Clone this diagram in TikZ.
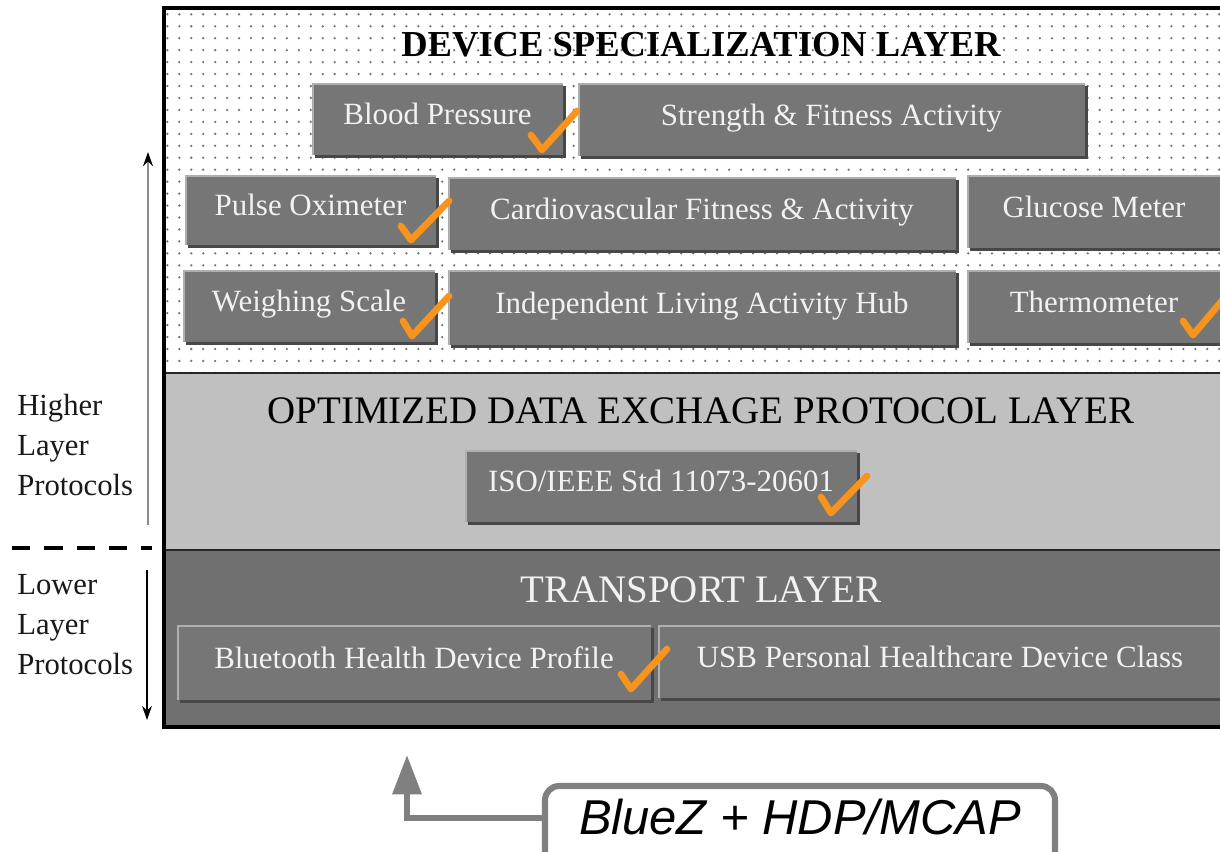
\documentclass[tikz,border=0pt]{standalone}
\usepackage{fontspec}
\setmainfont{Liberation Serif}
\newfontfamily\arialf{Liberation Sans}
\usetikzlibrary{arrows.meta,patterns.meta,shadows,calc}
\definecolor{boxgray}{RGB}{118,118,118}
\definecolor{lightlayer}{RGB}{192,192,192}
\definecolor{darklayer}{RGB}{112,112,112}
\definecolor{txtw}{RGB}{242,242,242}
\definecolor{hil}{RGB}{175,175,175}
\definecolor{chkor}{RGB}{247,148,29}
\definecolor{bzgray}{RGB}{128,128,128}
\newcommand{\devbox}[7]{%
  \node[#1, minimum width={(#5-#3)*0.025cm}, minimum height={(#6-#4)*0.025cm}] (#2) at ({(#3+#5)/2},{(#4+#6)/2}) {#7};}
\newcommand{\chkmark}[6]{\draw[chkstyle] (#1,#2) -- (#3,#4) -- (#5,#6);}
\begin{document}
\begin{tikzpicture}[x=0.025cm,y=-0.025cm,
  dbox/.style={fill=boxgray, text=txtw, font=\fontsize{22}{26}\selectfont, inner sep=0pt,
    text height=0.85em, text depth=0pt,
    drop shadow={shadow xshift=2pt, shadow yshift=-2pt, fill=black!72, opacity=1},
    path picture={\draw[line width=2.4pt, hil] (path picture bounding box.south west) |- (path picture bounding box.north east);}},
  tbox/.style={dbox, path picture={\draw[line width=3pt, hil] (path picture bounding box.south west) |- (path picture bounding box.north east);}},
  ltitle/.style={font=\fontsize{27.7}{30}\selectfont, inner sep=0pt},
  sidetext/.style={font=\fontsize{21.8}{28.4}\selectfont, align=left, anchor=west, inner sep=0pt, text=black!90},
  chkstyle/.style={draw=chkor, line width=4.8pt, line cap=round, line join=round},
  gconn/.style={draw=bzgray, line width=4.3pt, -{Triangle[length=28pt,width=20pt]}},
]
\useasboundingbox (0,0) rectangle (1220,851);
\clip (0,0) rectangle (1220,851);
\fill[white] (0,0) rectangle (1220,851);
% layers
\fill[white] (164,8) rectangle (1240,373);
\fill[pattern={Dots[distance=8.5pt,radius=0.9pt]}, pattern color=black!55] (164,8) rectangle (1240,373);
\fill[lightlayer] (164,373) rectangle (1240,550);
\fill[darklayer] (164,550) rectangle (1240,727);
\draw[line width=2pt, black!85] (164,373) -- (1240,373) (164,550) -- (1240,550);
\draw[line width=2.2pt] (164,8) rectangle (1240,727);
% titles
\node[ltitle, font=\bfseries\fontsize{26}{30}\selectfont] (tdev) at (701,45) {DEVICE SPECIALIZATION LAYER};
\node[ltitle] (topt) at (701,411) {OPTIMIZED DATA EXCHAGE PROTOCOL LAYER};
\node[ltitle, text=txtw] (ttr) at (701,590) {TRANSPORT LAYER};
% device boxes
\devbox{dbox}{bp}{312}{83}{563}{155}{Blood Pressure}
\devbox{dbox}{sf}{578}{83}{1085}{156}{Strength \& Fitness Activity}
\devbox{dbox}{po}{185}{175}{436}{245}{Pulse Oximeter}
\devbox{dbox}{cv}{448}{177}{956}{250}{Cardiovascular Fitness \& Activity}
\devbox{dbox}{gm}{967}{175}{1221}{248}{Glucose Meter}
\devbox{dbox}{ws}{183}{270}{435}{342}{Weighing Scale}
\devbox{dbox}{il}{448}{270}{956}{345}{Independent Living Activity Hub}
\devbox{dbox}{th}{967}{270}{1221}{343}{Thermometer}
\devbox{dbox}{iso}{465}{450}{857}{522}{ISO/IEEE Std 11073-20601}
\devbox{tbox}{bt}{177}{625}{651}{700}{Bluetooth Health Device Profile}
\devbox{tbox}{usb}{658}{625}{1222}{698}{USB Personal Healthcare Device Class}
% check marks
\chkmark{531}{135}{542}{150}{577}{111}
\chkmark{401}{226}{411}{240}{449}{201}
\chkmark{403}{321}{412}{336}{449}{296}
\chkmark{1183}{321}{1193}{335}{1226}{296}
\chkmark{821}{497}{831}{513}{867}{476}
\chkmark{621}{674}{631}{689}{667}{649}
% left side
\coordinate (upS) at (148,525);
\coordinate (upE) at (148,152);
\draw[line width=1.8pt, black!45, -{Stealth[length=10pt,width=7pt,color=black]}] (upS) -- (upE);
\coordinate (dnS) at (147,570);
\coordinate (dnE) at (147,720);
\draw[line width=1pt, -{Stealth[length=10pt,width=7pt]}] (dnS) -- (dnE);
\coordinate (dashL) at (12,548);
\coordinate (dashR) at (152,548);
\draw[line width=2.2pt, dash pattern=on 13pt off 10pt] (dashL) -- (dashR);
\node[sidetext] (hl) at (17,445) {Higher\\Layer\\Protocols};
\node[sidetext] (ll) at (17,625) {Lower\\Layer\\Protocols};
% BlueZ
\node[draw=bzgray, line width=4.3pt, rounded corners=10pt, fill=white, minimum width={510*0.025cm}, minimum height={86*0.025cm}, inner sep=0pt, font=\arialf\itshape\fontsize{34.8}{40}\selectfont, text height=0.8em, text depth=0pt] (bluez) at (800,829) {BlueZ + HDP/MCAP};
\coordinate (bztip) at (407,755);
\draw[gconn] ([yshift=8pt]bluez.west) -| (bztip);
\end{tikzpicture}
\end{document}
